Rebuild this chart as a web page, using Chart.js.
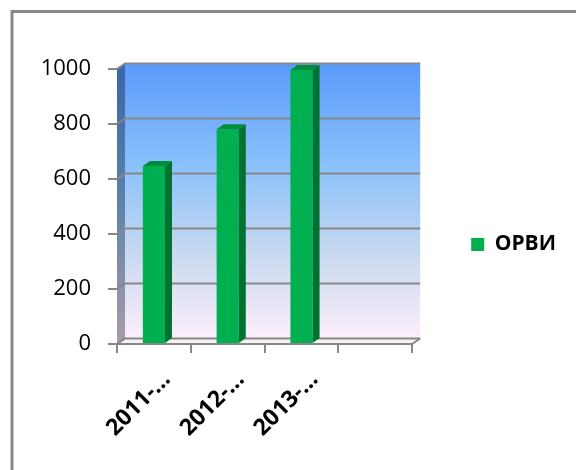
<!DOCTYPE html>
<html>
<head>
<meta charset="utf-8">
<title>ОРВИ</title>
<script src="https://cdn.jsdelivr.net/npm/chart.js@4.4.1/dist/chart.umd.min.js"></script>
<style>
  html, body { margin: 0; padding: 0; background: #fff; }
  canvas { display: block; }
</style>
</head>
<body>
<canvas id="chart" width="576" height="470"></canvas>
<script>
const categories = ['2011-…', '2012-…', '2013-…', ''];
const orviCases = [647, 781, 996, null];
const yTicks = [0, 200, 400, 600, 800, 1000];

// depth of the 3D box and of the columns
const WALL_DX = 8, WALL_DY = -5.5;
const BAR_DX = 7, BAR_DY = -5;
const LINE = '#878787';

const box3d = {
  id: 'box3d',
  afterLayout(chart) {
    // legend sits a little above the middle of the frame
    const lg = chart.legend;
    if (lg) { lg.top -= 12; lg.bottom -= 12; }
  },
  beforeDraw(chart) {
    const { ctx, chartArea: a } = chart;
    const ys = chart.scales.y;
    const bl = a.left + WALL_DX, br = a.right + WALL_DX;
    const bt = a.top + WALL_DY, bb = a.bottom + WALL_DY;
    ctx.save();

    // outer frame
    ctx.strokeStyle = '#8a8a8a';
    ctx.lineWidth = 3;
    ctx.strokeRect(12, 11.5, 700, 700);

    // back wall
    const g = ctx.createLinearGradient(0, bt, 0, bb);
    g.addColorStop(0, '#5a9bfa');
    g.addColorStop(0.38, '#8cc1fb');
    g.addColorStop(0.68, '#c6d8f0');
    g.addColorStop(1, '#fdeefa');
    ctx.fillStyle = g;
    ctx.fillRect(bl, bt, br - bl, bb - bt);

    // side wall
    const s = ctx.createLinearGradient(0, bt, 0, a.bottom);
    s.addColorStop(0, '#3a64ab');
    s.addColorStop(0.5, '#5f82ab');
    s.addColorStop(1, '#ab9bab');
    ctx.fillStyle = s;
    ctx.beginPath();
    ctx.moveTo(a.left, a.top);
    ctx.lineTo(bl, bt);
    ctx.lineTo(bl, bb);
    ctx.lineTo(a.left, a.bottom);
    ctx.closePath();
    ctx.fill();

    // floor
    ctx.fillStyle = '#f4f4f4';
    ctx.beginPath();
    ctx.moveTo(a.left, a.bottom);
    ctx.lineTo(bl, bb);
    ctx.lineTo(br, bb);
    ctx.lineTo(a.right, a.bottom);
    ctx.closePath();
    ctx.fill();

    // grid lines on the back wall, joined to the front ticks across the side wall
    ctx.strokeStyle = LINE;
    ctx.lineWidth = 2;
    ys.ticks.forEach(t => {
      const py = ys.getPixelForValue(t.value);
      ctx.beginPath();
      ctx.moveTo(a.left, py);
      ctx.lineTo(bl, py + WALL_DY);
      ctx.lineTo(br, py + WALL_DY);
      ctx.stroke();
    });
    ctx.beginPath();
    ctx.moveTo(a.right, a.bottom);
    ctx.lineTo(br, bb);
    ctx.stroke();
    ctx.restore();
  },
  afterDatasetsDraw(chart) {
    const { ctx } = chart;
    const meta = chart.getDatasetMeta(0);
    ctx.save();
    meta.data.forEach((bar, i) => {
      if (orviCases[i] == null) return;
      const { x, y, base, width } = bar.getProps(['x', 'y', 'base', 'width'], true);
      const l = x - width / 2, r = x + width / 2;
      // right face
      ctx.fillStyle = '#00722f';
      ctx.beginPath();
      ctx.moveTo(r, y);
      ctx.lineTo(r + BAR_DX, y + BAR_DY);
      ctx.lineTo(r + BAR_DX, base + BAR_DY);
      ctx.lineTo(r, base);
      ctx.closePath();
      ctx.fill();
      // top face
      ctx.fillStyle = '#008d3c';
      ctx.beginPath();
      ctx.moveTo(l, y);
      ctx.lineTo(l + BAR_DX, y + BAR_DY);
      ctx.lineTo(r + BAR_DX, y + BAR_DY);
      ctx.lineTo(r, y);
      ctx.closePath();
      ctx.fill();
    });
    ctx.restore();
  }
};

function draw() {
  new Chart(document.getElementById('chart'), {
    type: 'bar',
    data: {
      labels: categories,
      datasets: [{
        label: 'ОРВИ',
        data: orviCases,
        backgroundColor: '#00b050',
        borderWidth: 0,
        barPercentage: 0.3,
        categoryPercentage: 1
      }]
    },
    options: {
      responsive: false,
      devicePixelRatio: 1,
      animation: false,
      layout: { padding: { top: 69, bottom: 26, left: 0, right: 10 } },
      plugins: {
        tooltip: { enabled: false },
        legend: {
          position: 'right',
          maxWidth: 200,
          labels: {
            boxWidth: 13,
            boxHeight: 13,
            padding: 59,
            color: '#000',
            font: { family: 'Open Sans', size: 21, weight: 'bold' }
          }
        }
      },
      scales: {
        x: {
          offset: true,
          afterFit(scale) { scale.height = 100; },
          border: { display: true, color: LINE, width: 2 },
          grid: { offset: true, drawOnChartArea: false, drawTicks: true, tickLength: 9, color: LINE, lineWidth: 2 },
          ticks: {
            autoSkip: false,
            minRotation: 45,
            maxRotation: 45,
            padding: 13,
            labelOffset: 13,
            color: '#000',
            font: { family: 'Open Sans', size: 23, weight: 'bold' }
          }
        },
        y: {
          min: yTicks[0],
          max: yTicks[yTicks.length - 1],
          afterFit(scale) { scale.width = 117; },
          border: { display: false },
          grid: { drawOnChartArea: false, drawTicks: true, tickLength: 9, color: LINE, lineWidth: 2 },
          ticks: {
            stepSize: yTicks[1] - yTicks[0],
            padding: 17,
            color: '#000',
            font: { family: 'Open Sans', size: 22 },
            callback: v => String(v)
          }
        }
      }
    },
    plugins: [box3d]
  });
}

// make sure the faces are ready before text gets measured
Promise.all([
  document.fonts.load('bold 21px "Open Sans"', 'ОРВИ 2011-…'),
  document.fonts.load('22px "Open Sans"', '1000')
]).then(draw, draw);
</script>
</body>
</html>
